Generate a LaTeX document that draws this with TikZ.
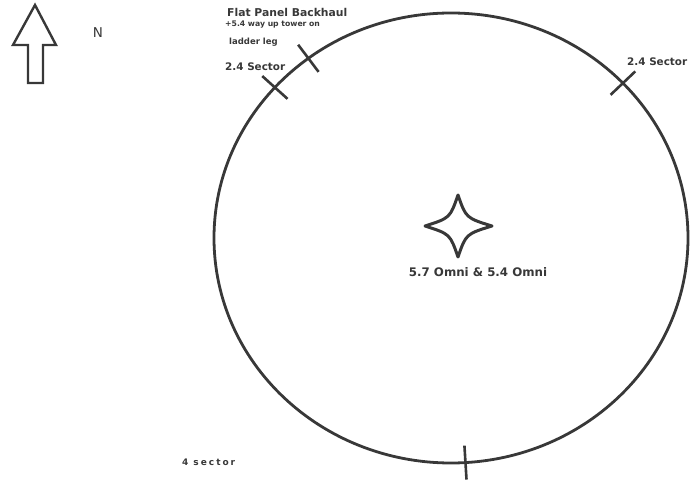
\documentclass[tikz,border=0pt]{standalone}
\usepackage{fontspec}
\setmainfont{DejaVu Sans}
\usepackage{xcolor}
\usetikzlibrary{calc}
\definecolor{ink}{gray}{0.22}

\begin{document}
\begin{tikzpicture}[x=1pt, y=1pt,
    lbl/.style={anchor=west, inner sep=0pt, text=ink},
    tick/.style={line width=2.6pt, ink}]
    \useasboundingbox (0,0) rectangle (691,488);

    % North arrow
    \draw[line width=2.4pt, ink, line join=miter]
        (28,405) -- (28,443) -- (13,443) -- (35,483) -- (56,443) -- (43,443) -- (43,405) -- cycle;
    \node[inner sep=0pt, text=ink, font=\fontsize{13.5}{13.5}\selectfont] (north) at (98,455) {N};

    % Site ring
    \coordinate (ctr) at (451,250);
    \draw[line width=2.8pt, ink] (ctr) ellipse (237 and 225);

    % Sector marks on the ring
    \foreach \t/\nm in {127/fp, 138/secA, 43.5/secB, -86.5/secC} {
        \draw[tick] ($(ctr)+(\t:220 and 208)$) -- ($(ctr)+(\t:254 and 242)$);
    }

    % Omni in the middle
    \coordinate (om) at (458,262);
    \draw[line width=3pt, ink, line join=round]
        ($(om)+(0,31)$) .. controls ($(om)+(8,8)$) .. ($(om)+(34,0)$)
        .. controls ($(om)+(8,-8)$) .. ($(om)+(0,-31)$)
        .. controls ($(om)+(-8,-8)$) .. ($(om)+(-33,0)$)
        .. controls ($(om)+(-8,8)$) .. cycle;

    % Labels
    \node[lbl, font=\fontsize{10.8}{10.8}\selectfont\bfseries] (flat) at (227,476) {Flat Panel Backhaul};
    \node[lbl, font=\fontsize{7.7}{7.7}\selectfont\bfseries] (way) at (225,463) {+5.4 way up tower on};
    \node[lbl, font=\fontsize{8.5}{8.5}\selectfont\bfseries] (leg) at (229,446) {ladder leg};
    \node[lbl, font=\fontsize{10.4}{10.4}\selectfont\bfseries] (secl) at (225,421) {2.4 Sector};
    \node[lbl, font=\fontsize{10.4}{10.4}\selectfont\bfseries] (secr) at (627,426) {2.4 Sector};
    \node[lbl, font=\fontsize{9}{9}\selectfont\bfseries] (four) at (182,26) {4\hspace{5pt}s\hspace{2pt}e\hspace{2pt}c\hspace{2pt}t\hspace{2pt}o\hspace{2pt}r};
    \node[inner sep=0pt, text=ink, font=\fontsize{11.8}{11.8}\selectfont\bfseries] (omni) at (478,216) {5.7 Omni \& 5.4 Omni};
\end{tikzpicture}
\end{document}
